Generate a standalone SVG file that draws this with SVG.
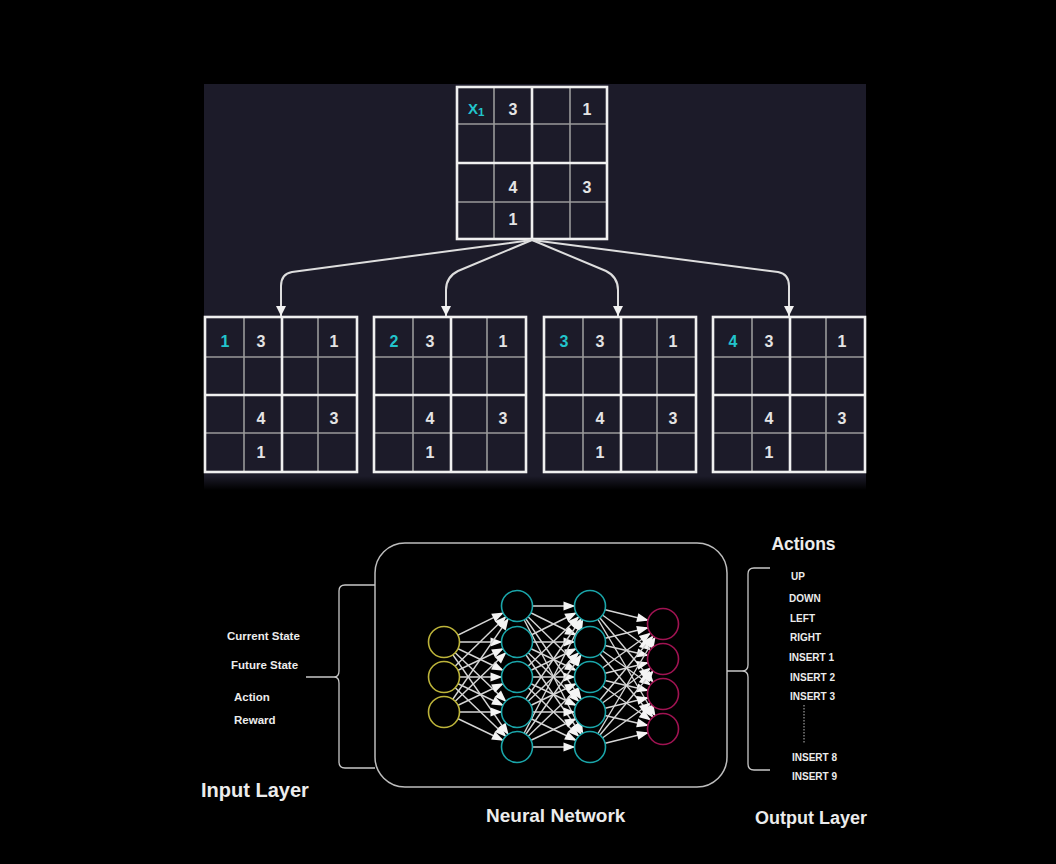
<svg xmlns="http://www.w3.org/2000/svg" xmlns:xlink="http://www.w3.org/1999/xlink" width="1056" height="864" viewBox="0 0 1056 864">
<style>
.thick{stroke:#f0f0f0;stroke-width:2.6;fill:none}
.thin{stroke:#9a9a9a;stroke-width:1.6;fill:none}
.num{font-family:"Liberation Sans",Arial,sans-serif;font-weight:bold;font-size:16px;fill:#e4e4e4;text-anchor:middle}
.cy{fill:#22c4cc}
.tarr{stroke:#dedede;stroke-width:2;fill:none}
.edge{stroke:#d6d6d6;stroke-width:1.4;fill:none}
.lbl{font-family:"Liberation Sans",Arial,sans-serif;font-weight:bold;fill:#ececec}
.brace{stroke:#c8c8c8;stroke-width:1.3;fill:none}
.nin{fill:#000;stroke:#bdb43a;stroke-width:1.6}
.nh{fill:#000;stroke:#1aa6aa;stroke-width:1.6}
.nout{fill:#000;stroke:#a01352;stroke-width:1.6}
</style>
<defs>
<linearGradient id="shadow" x1="0" y1="0" x2="0" y2="1">
<stop offset="0" stop-color="#1c1b29"/>
<stop offset="1" stop-color="#000"/>
</linearGradient>
<marker id="tah" markerUnits="userSpaceOnUse" markerWidth="12" markerHeight="12" refX="10" refY="5" orient="auto" overflow="visible">
<path d="M0,0 L10,5 L0,10 Z" fill="#f2f2f2"/>
</marker>
<marker id="ah" markerUnits="userSpaceOnUse" markerWidth="30" markerHeight="10" refX="26.5" refY="4.5" orient="auto" overflow="visible">
<path d="M0,0 L12,4.5 L0,9 Z" fill="#f4f4f4"/>
</marker>
<g id="bgrid">
<line class="thin" x1="39" y1="0" x2="39" y2="155"/>
<line class="thin" x1="113" y1="0" x2="113" y2="155"/>
<line class="thin" x1="0" y1="40" x2="152" y2="40"/>
<line class="thin" x1="0" y1="116" x2="152" y2="116"/>
<line class="thick" x1="77" y1="0" x2="77" y2="155"/>
<line class="thick" x1="0" y1="78" x2="152" y2="78"/>
<rect class="thick" x="0" y="0" width="152" height="155"/>
<text class="num" x="56" y="29.5">3</text>
<text class="num" x="129" y="29.5">1</text>
<text class="num" x="56" y="106.5">4</text>
<text class="num" x="129" y="106.5">3</text>
<text class="num" x="56" y="140.5">1</text>
</g>
</defs>
<rect x="0" y="0" width="1056" height="864" fill="#000"/>
<rect x="204" y="84" width="662" height="392" fill="#1c1b29"/>
<rect x="204" y="476" width="662" height="14" fill="url(#shadow)"/>

<g id="grid-root">
<line class="thin" x1="494" y1="87" x2="494" y2="239"/>
<line class="thin" x1="570" y1="87" x2="570" y2="239"/>
<line class="thin" x1="457" y1="124" x2="607" y2="124"/>
<line class="thin" x1="457" y1="202" x2="607" y2="202"/>
<line class="thick" x1="532" y1="87" x2="532" y2="239"/>
<line class="thick" x1="457" y1="163" x2="607" y2="163"/>
<rect class="thick" x="457" y="87" width="150" height="152"/>
<text class="num cy" x="468" y="113.5" style="text-anchor:start;font-size:15px">X<tspan font-size="11.5" dy="2.5">1</tspan></text>
<text class="num" x="513" y="114.5">3</text>
<text class="num" x="587" y="114.5">1</text>
<text class="num" x="513" y="192.5">4</text>
<text class="num" x="587" y="192.5">3</text>
<text class="num" x="513" y="224.5">1</text>
</g>

<g id="top-connectors">
<path class="tarr" d="M532,240 L292,272 Q281,274 281,286 L281,316" marker-end="url(#tah)"/>
<path class="tarr" d="M532,240 L458,271 Q446,277 446,290 L446,316" marker-end="url(#tah)"/>
<path class="tarr" d="M532,240 L606,271 Q618,277 618,290 L618,316" marker-end="url(#tah)"/>
<path class="tarr" d="M532,240 L778,272 Q789,274 789,286 L789,316" marker-end="url(#tah)"/>
</g>

<g id="grid-1" transform="translate(205,317)">
<use xlink:href="#bgrid" href="#bgrid"/>
<text class="num cy" x="20" y="29.5">1</text>
</g>
<g id="grid-2" transform="translate(374,317)">
<use xlink:href="#bgrid" href="#bgrid"/>
<text class="num cy" x="20" y="29.5">2</text>
</g>
<g id="grid-3" transform="translate(544,317)">
<use xlink:href="#bgrid" href="#bgrid"/>
<text class="num cy" x="20" y="29.5">3</text>
</g>
<g id="grid-4" transform="translate(713,317)">
<use xlink:href="#bgrid" href="#bgrid"/>
<text class="num cy" x="20" y="29.5">4</text>
</g>

<g id="nn-box">
<rect x="375" y="543" width="352" height="244" rx="30" fill="#000" stroke="#bdbdbd" stroke-width="1.5"/>
</g>

<g id="braces">
<path class="brace" d="M375,585 L345,585 Q339,585 339,591 L339,671 Q339,677 334,677 L306,677 M334,677 Q339,677 339,683 L339,762 Q339,768 345,768 L375,768"/>
<path class="brace" d="M770,568 L754,568 Q748,568 748,574 L748,665 Q748,671 742,671 L727,671 M742,671 Q748,671 748,677 L748,764 Q748,770 754,770 L770,770"/>
<line x1="804" y1="705" x2="804" y2="743" stroke="#bbb" stroke-width="1" stroke-dasharray="1.5,1.5"/>
</g>

<g id="nn-edges">
<line class="edge" x1="444" y1="642" x2="517" y2="606" marker-end="url(#ah)"/>
<line class="edge" x1="444" y1="642" x2="517" y2="642" marker-end="url(#ah)"/>
<line class="edge" x1="444" y1="642" x2="517" y2="677" marker-end="url(#ah)"/>
<line class="edge" x1="444" y1="642" x2="517" y2="712" marker-end="url(#ah)"/>
<line class="edge" x1="444" y1="642" x2="517" y2="747" marker-end="url(#ah)"/>
<line class="edge" x1="444" y1="677" x2="517" y2="606" marker-end="url(#ah)"/>
<line class="edge" x1="444" y1="677" x2="517" y2="642" marker-end="url(#ah)"/>
<line class="edge" x1="444" y1="677" x2="517" y2="677" marker-end="url(#ah)"/>
<line class="edge" x1="444" y1="677" x2="517" y2="712" marker-end="url(#ah)"/>
<line class="edge" x1="444" y1="677" x2="517" y2="747" marker-end="url(#ah)"/>
<line class="edge" x1="444" y1="712" x2="517" y2="606" marker-end="url(#ah)"/>
<line class="edge" x1="444" y1="712" x2="517" y2="642" marker-end="url(#ah)"/>
<line class="edge" x1="444" y1="712" x2="517" y2="677" marker-end="url(#ah)"/>
<line class="edge" x1="444" y1="712" x2="517" y2="712" marker-end="url(#ah)"/>
<line class="edge" x1="444" y1="712" x2="517" y2="747" marker-end="url(#ah)"/>

<line class="edge" x1="517" y1="606" x2="590" y2="606" marker-end="url(#ah)"/>
<line class="edge" x1="517" y1="606" x2="590" y2="642" marker-end="url(#ah)"/>
<line class="edge" x1="517" y1="606" x2="590" y2="677" marker-end="url(#ah)"/>
<line class="edge" x1="517" y1="606" x2="590" y2="712" marker-end="url(#ah)"/>
<line class="edge" x1="517" y1="606" x2="590" y2="747" marker-end="url(#ah)"/>
<line class="edge" x1="517" y1="642" x2="590" y2="606" marker-end="url(#ah)"/>
<line class="edge" x1="517" y1="642" x2="590" y2="642" marker-end="url(#ah)"/>
<line class="edge" x1="517" y1="642" x2="590" y2="677" marker-end="url(#ah)"/>
<line class="edge" x1="517" y1="642" x2="590" y2="712" marker-end="url(#ah)"/>
<line class="edge" x1="517" y1="642" x2="590" y2="747" marker-end="url(#ah)"/>
<line class="edge" x1="517" y1="677" x2="590" y2="606" marker-end="url(#ah)"/>
<line class="edge" x1="517" y1="677" x2="590" y2="642" marker-end="url(#ah)"/>
<line class="edge" x1="517" y1="677" x2="590" y2="677" marker-end="url(#ah)"/>
<line class="edge" x1="517" y1="677" x2="590" y2="712" marker-end="url(#ah)"/>
<line class="edge" x1="517" y1="677" x2="590" y2="747" marker-end="url(#ah)"/>
<line class="edge" x1="517" y1="712" x2="590" y2="606" marker-end="url(#ah)"/>
<line class="edge" x1="517" y1="712" x2="590" y2="642" marker-end="url(#ah)"/>
<line class="edge" x1="517" y1="712" x2="590" y2="677" marker-end="url(#ah)"/>
<line class="edge" x1="517" y1="712" x2="590" y2="712" marker-end="url(#ah)"/>
<line class="edge" x1="517" y1="712" x2="590" y2="747" marker-end="url(#ah)"/>
<line class="edge" x1="517" y1="747" x2="590" y2="606" marker-end="url(#ah)"/>
<line class="edge" x1="517" y1="747" x2="590" y2="642" marker-end="url(#ah)"/>
<line class="edge" x1="517" y1="747" x2="590" y2="677" marker-end="url(#ah)"/>
<line class="edge" x1="517" y1="747" x2="590" y2="712" marker-end="url(#ah)"/>
<line class="edge" x1="517" y1="747" x2="590" y2="747" marker-end="url(#ah)"/>

<line class="edge" x1="590" y1="606" x2="663" y2="624" marker-end="url(#ah)"/>
<line class="edge" x1="590" y1="606" x2="663" y2="659" marker-end="url(#ah)"/>
<line class="edge" x1="590" y1="606" x2="663" y2="694" marker-end="url(#ah)"/>
<line class="edge" x1="590" y1="606" x2="663" y2="729" marker-end="url(#ah)"/>
<line class="edge" x1="590" y1="642" x2="663" y2="624" marker-end="url(#ah)"/>
<line class="edge" x1="590" y1="642" x2="663" y2="659" marker-end="url(#ah)"/>
<line class="edge" x1="590" y1="642" x2="663" y2="694" marker-end="url(#ah)"/>
<line class="edge" x1="590" y1="642" x2="663" y2="729" marker-end="url(#ah)"/>
<line class="edge" x1="590" y1="677" x2="663" y2="624" marker-end="url(#ah)"/>
<line class="edge" x1="590" y1="677" x2="663" y2="659" marker-end="url(#ah)"/>
<line class="edge" x1="590" y1="677" x2="663" y2="694" marker-end="url(#ah)"/>
<line class="edge" x1="590" y1="677" x2="663" y2="729" marker-end="url(#ah)"/>
<line class="edge" x1="590" y1="712" x2="663" y2="624" marker-end="url(#ah)"/>
<line class="edge" x1="590" y1="712" x2="663" y2="659" marker-end="url(#ah)"/>
<line class="edge" x1="590" y1="712" x2="663" y2="694" marker-end="url(#ah)"/>
<line class="edge" x1="590" y1="712" x2="663" y2="729" marker-end="url(#ah)"/>
<line class="edge" x1="590" y1="747" x2="663" y2="624" marker-end="url(#ah)"/>
<line class="edge" x1="590" y1="747" x2="663" y2="659" marker-end="url(#ah)"/>
<line class="edge" x1="590" y1="747" x2="663" y2="694" marker-end="url(#ah)"/>
<line class="edge" x1="590" y1="747" x2="663" y2="729" marker-end="url(#ah)"/>
</g>

<g id="input-nodes">
<circle class="nin" cx="444" cy="642" r="15.5"/>
<circle class="nin" cx="444" cy="677" r="15.5"/>
<circle class="nin" cx="444" cy="712" r="15.5"/>
</g>
<g id="hidden-1">
<circle class="nh" cx="517" cy="606" r="15.5"/>
<circle class="nh" cx="517" cy="642" r="15.5"/>
<circle class="nh" cx="517" cy="677" r="15.5"/>
<circle class="nh" cx="517" cy="712" r="15.5"/>
<circle class="nh" cx="517" cy="747" r="15.5"/>
</g>
<g id="hidden-2">
<circle class="nh" cx="590" cy="606" r="15.5"/>
<circle class="nh" cx="590" cy="642" r="15.5"/>
<circle class="nh" cx="590" cy="677" r="15.5"/>
<circle class="nh" cx="590" cy="712" r="15.5"/>
<circle class="nh" cx="590" cy="747" r="15.5"/>
</g>
<g id="output-nodes">
<circle class="nout" cx="663" cy="624" r="15.5"/>
<circle class="nout" cx="663" cy="659" r="15.5"/>
<circle class="nout" cx="663" cy="694" r="15.5"/>
<circle class="nout" cx="663" cy="729" r="15.5"/>
</g>

<g id="input-labels" class="lbl" font-size="11.5">
<text x="227" y="640">Current State</text>
<text x="231" y="669">Future State</text>
<text x="234" y="701">Action</text>
<text x="234" y="724">Reward</text>
</g>
<g id="action-labels" class="lbl" font-size="10">
<text x="791" y="580">UP</text>
<text x="789" y="602">DOWN</text>
<text x="790" y="622">LEFT</text>
<text x="790" y="641">RIGHT</text>
<text x="789" y="661">INSERT 1</text>
<text x="790" y="681">INSERT 2</text>
<text x="790" y="700">INSERT 3</text>
<text x="792" y="761">INSERT 8</text>
<text x="792" y="780">INSERT 9</text>
</g>
<g id="titles" class="lbl">
<text x="803.5" y="550" font-size="17.5" text-anchor="middle">Actions</text>
<text x="201" y="797" font-size="20">Input Layer</text>
<text x="486" y="821.5" font-size="19">Neural Network</text>
<text x="755" y="823.5" font-size="18">Output Layer</text>
</g>
</svg>
